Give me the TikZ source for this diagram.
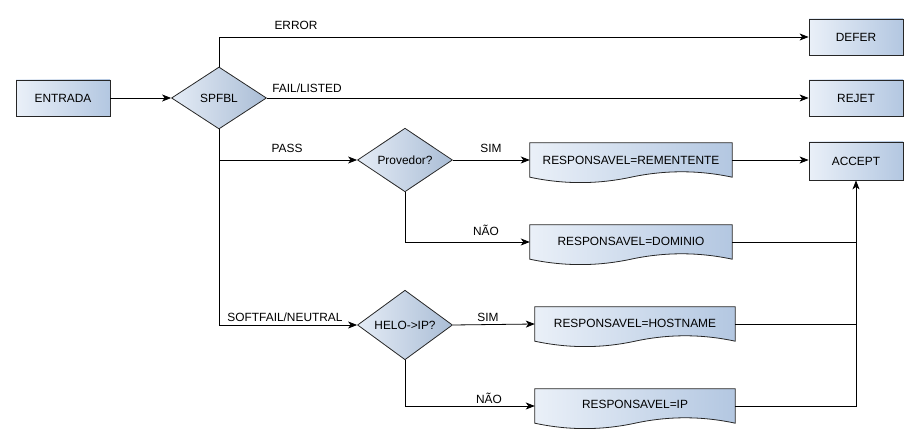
\documentclass[tikz,border=0pt]{standalone}
\usepackage{fontspec}
\setmainfont{Liberation Sans}
\usetikzlibrary{arrows.meta,shapes.geometric,calc}
\definecolor{fillL}{HTML}{EAF0F8}
\definecolor{fillR}{HTML}{B3C7E1}
\tikzset{
  every node/.style={font=\fontsize{11.9}{14}\selectfont, inner sep=0pt},
  boxnode/.style={draw=black!85, line width=0.8pt, rectangle, minimum width=94pt, minimum height=36pt, left color=fillL, right color=fillR},
  decnode/.style={draw=black!85, line width=0.8pt, diamond, minimum width=95pt, minimum height=62pt, left color=fillL!90!fillR, right color=fillR!95!black},
  docnode/.style={rectangle, minimum height=34pt},
  docline/.style={draw=black!85, line width=0.8pt, left color=fillL, right color=fillR},
  conn/.style={draw=black, line width=0.8pt},
  arr/.style={conn, -{Stealth[length=9pt,width=7pt,inset=2.5pt]}},
  lbl/.style={font=\fontsize{11.9}{14}\selectfont},
}
\newcommand{\docshape}[1]{%
  \path let \p1=(#1.south west), \p2=(#1.south east), \n1={(\x2-\x1)/6} in
    [docline] (#1.south west) -- (#1.north west) -- (#1.north east) -- (#1.south east)
    .. controls ($(#1.south east)+(-\n1,7.2pt)$) and ($(#1.south)+(\n1,7.2pt)$) .. (#1.south)
    .. controls ($(#1.south)+(-\n1,-7.2pt)$) and ($(#1.south west)+(\n1,-7.2pt)$) .. (#1.south west) -- cycle;%
}
\begin{document}
\begin{tikzpicture}[x=1pt,y=-1pt]
\useasboundingbox (0,0) rectangle (919,443);
% nodes
\node[boxnode] (ent) at (63,98) {ENTRADA};
\node[decnode] (sp) at (219,98) {SPFBL};
\node[boxnode] (def) at (856,37) {DEFER};
\node[boxnode] (rej) at (856,98) {REJET};
\node[boxnode, minimum height=38pt] (acc) at (856,161) {ACCEPT};
\node[decnode] (prov) at (405,160) {Provedor?};
\node[decnode] (helo) at (405,325) {HELO->IP?};
\node[docnode, minimum width=202pt] (rem) at (631,160) {};
\node[docnode, minimum width=202pt] (dom) at (631,242) {};
\node[docnode, minimum width=200pt] (host) at (635,324) {};
\node[docnode, minimum width=200pt] (ip) at (635,406) {};
\docshape{rem}
\docshape{dom}
\docshape{host}
\docshape{ip}
\node at (rem.center) {RESPONSAVEL=REMENTENTE};
\node at ([yshift=1pt]dom.center) {RESPONSAVEL=DOMINIO};
\node at ([yshift=1pt]host.center) {RESPONSAVEL=HOSTNAME};
\node at ([yshift=2pt]ip.center) {RESPONSAVEL=IP};
% connectors
\draw[arr] (ent) -- (sp);
\draw[arr] (sp.north) |- (def.west);
\draw[arr] (sp.east) -- (rej.west);
\draw[arr] (sp.south) |- (prov.west);
\draw[arr] (sp.south) |- (helo.west);
\draw[arr] (prov.east) -- (rem.west);
\draw[arr] (prov.south) |- (dom.west);
\draw[arr] (helo.east) -- (host.west);
\draw[arr] (helo.south) |- (ip.west);
\draw[arr] (rem.east) -- (rem.east -| acc.west);
\draw[arr] (ip.east) -| (acc.south);
\draw[conn] (dom.east) -- (dom.east -| acc.south);
\draw[conn] (host.east) -- (host.east -| acc.south);
% labels
\node[lbl] (l1) at (296,25) {ERROR};
\node[lbl] (l2) at (307,88) {FAIL/LISTED};
\node[lbl] (l3) at (287,148) {PASS};
\node[lbl] (l4) at (285,317) {SOFTFAIL/NEUTRAL};
\node[lbl] (l5) at (491,148) {SIM};
\node[lbl] (l6) at (486,230) {NÃO};
\node[lbl] (l7) at (488,317) {SIM};
\node[lbl] (l8) at (489,398) {NÃO};
\end{tikzpicture}
\end{document}
